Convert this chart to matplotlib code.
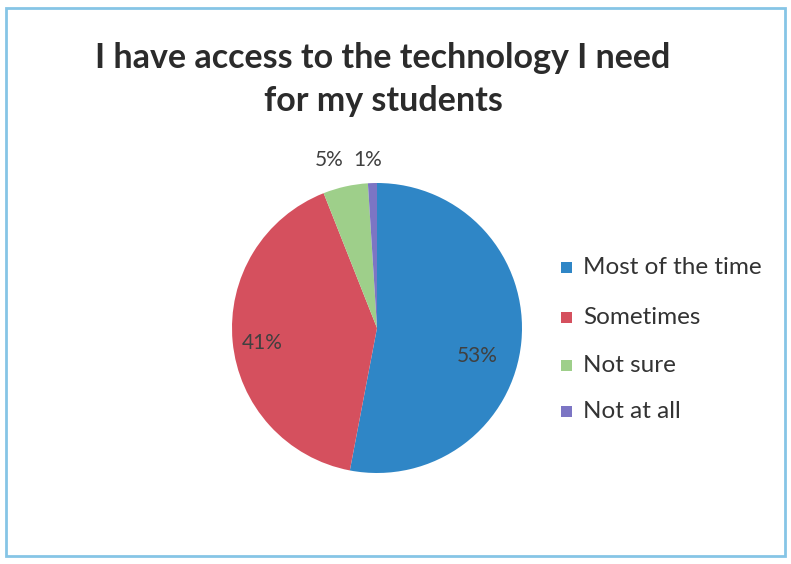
import numpy as np
import matplotlib.pyplot as plt
from matplotlib.patches import Rectangle

# ----- Data -----
categories = ["Most of the time", "Sometimes", "Not sure", "Not at all"]
shares = [53, 41, 5, 1]
colors = ["#2F86C6", "#D5505E", "#9ECF8A", "#7C75C4"]

# label placement (radius in pie units, angle shift in degrees)
label_r = [0.72, 0.80, 1.205, 1.16]
label_shift = [-10, 2, 3.3, 1.3]

W, H = 791, 564
fig = plt.figure(figsize=(W / 100, H / 100), dpi=100)
fig.patch.set_facecolor("white")

# outer frame
fig.add_artist(Rectangle((6 / W, 1 - 556 / H), 779 / W, 548 / H,
                         transform=fig.transFigure, fill=False,
                         edgecolor="#86C5E6", linewidth=2))

fig.text(383 / W, 1 - 58 / H, "I have access to the technology I need",
         ha="center", va="center", fontsize=24.5, fontweight="bold",
         family="Lato", color="#2B2B2B")
fig.text(383 / W, 1 - 101 / H, "for my students",
         ha="center", va="center", fontsize=24.5, fontweight="bold",
         family="Lato", color="#2B2B2B")

# ----- Pie -----
cx, cy, r = 377, 328, 145
ax = fig.add_axes([(cx - r) / W, 1 - (cy + r) / H, 2 * r / W, 2 * r / H])
wedges, _ = ax.pie(shares, colors=colors, startangle=90, counterclock=False,
                   radius=1.0, wedgeprops=dict(linewidth=0))
ax.set_xlim(-1, 1)
ax.set_ylim(-1, 1)
ax.set_aspect("auto")
ax.axis("off")

for w, v, rr, sh in zip(wedges, shares, label_r, label_shift):
    mid = np.deg2rad((w.theta1 + w.theta2) / 2 + sh)
    ax.text(rr * np.cos(mid), rr * np.sin(mid), f"{v}%", ha="center",
            va="center", fontsize=15, family="Lato", color="#404040",
            clip_on=False)

# ----- Legend -----
leg_y = [268, 318, 366, 412]
for name, c, y in zip(categories, colors, leg_y):
    fig.add_artist(Rectangle((561 / W, 1 - (y + 5) / H), 11 / W, 11 / H,
                             transform=fig.transFigure, facecolor=c,
                             edgecolor="none"))
    fig.text(583 / W, 1 - y / H, name, ha="left", va="center",
             fontsize=17.5, family="Lato", color="#333333")

fig.savefig("out.png", dpi=100)
